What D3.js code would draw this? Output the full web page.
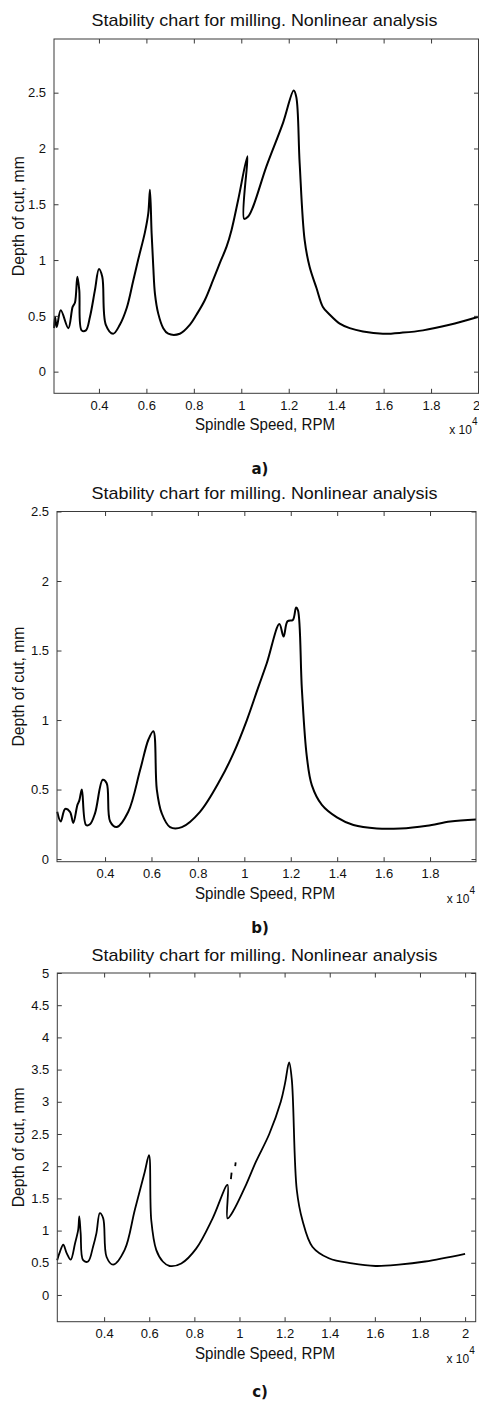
<!DOCTYPE html>
<html><head><meta charset="utf-8">
<script src="https://cdn.jsdelivr.net/npm/d3@7"></script>
<style>
body{margin:0;background:#fff}
svg text{font-family:"Liberation Sans",Arial,Helvetica,sans-serif;fill:#111}
</style>
</head><body>
<svg id="chart" width="479" height="1401"></svg>
<script>
// ---------- DATA ----------
const titleText = "Stability chart for milling. Nonlinear analysis";
const xLabelText = "Spindle Speed, RPM";
const yLabelText = "Depth of cut, mm";
const panelLetters = ["a)", "b)", "c)"];

// spindle speed (x 10^4 RPM) and depth of cut (mm)
const speedA = [0.211,0.215,0.222,0.239,0.271,0.289,0.299,0.309,0.317,0.327,0.345,0.362,0.383,0.400,0.414,0.429,0.460,0.488,0.517,0.544,0.565,0.594,0.608,0.615,0.622,0.629,0.636,0.650,0.671,0.692,0.741,0.783,0.811,0.846,0.881,0.909,0.938,0.959,0.987,1.026,1.012,1.029,1.050,1.106,1.176,1.221,1.232,1.246,1.267,1.288,1.317,1.344,1.373,1.415,1.457,1.513,1.597,1.681,1.766,1.878,1.997];
const depthA = [0.39,0.49,0.40,0.55,0.39,0.58,0.62,0.85,0.73,0.37,0.37,0.49,0.73,0.92,0.85,0.42,0.34,0.42,0.57,0.81,1.00,1.25,1.42,1.63,1.24,0.94,0.70,0.52,0.39,0.34,0.34,0.42,0.51,0.64,0.82,0.97,1.12,1.27,1.54,1.93,1.37,1.39,1.48,1.84,2.23,2.52,2.46,1.87,1.18,0.94,0.75,0.58,0.51,0.43,0.39,0.36,0.34,0.35,0.37,0.42,0.49];

const speedB = [0.194,0.209,0.228,0.249,0.263,0.281,0.289,0.300,0.318,0.335,0.357,0.390,0.407,0.422,0.450,0.500,0.551,0.587,0.608,0.623,0.644,0.680,0.731,0.809,0.896,0.953,1.011,1.061,1.097,1.151,1.169,1.186,1.209,1.223,1.231,1.248,1.269,1.291,1.334,1.399,1.470,1.571,1.672,1.787,1.887,1.998];
const depthB = [0.34,0.27,0.36,0.34,0.26,0.39,0.42,0.50,0.245,0.25,0.33,0.57,0.545,0.27,0.23,0.34,0.64,0.86,0.92,0.50,0.33,0.23,0.23,0.34,0.57,0.76,1.00,1.24,1.41,1.69,1.60,1.71,1.72,1.81,1.79,1.22,0.74,0.53,0.39,0.30,0.245,0.22,0.22,0.24,0.27,0.285];

const speedC = [0.192,0.204,0.219,0.234,0.252,0.271,0.285,0.290,0.296,0.307,0.329,0.351,0.366,0.381,0.396,0.411,0.440,0.491,0.536,0.580,0.599,0.609,0.631,0.660,0.690,0.742,0.808,0.881,0.947,0.947,0.970,1.029,1.073,1.132,1.183,1.202,1.220,1.232,1.254,1.279,1.323,1.396,1.499,1.603,1.706,1.823,2.000];
const depthC = [0.54,0.67,0.78,0.65,0.55,0.80,1.01,1.22,0.96,0.54,0.52,0.75,0.96,1.27,1.19,0.59,0.47,0.70,1.32,1.91,2.17,1.16,0.70,0.52,0.45,0.49,0.72,1.19,1.71,1.19,1.29,1.71,2.07,2.50,3.00,3.29,3.61,3.34,1.63,1.16,0.75,0.57,0.49,0.45,0.47,0.52,0.64];
// two small detached fragments in panel c
const fragSpeedC1 = [0.962,0.965], fragDepthC1 = [1.80,1.90];
const fragSpeedC2 = [0.981,0.983], fragDepthC2 = [2.00,2.06];

const xTicksA = [0.4,0.6,0.8,1,1.2,1.4,1.6,1.8,2];
const xTicksB = [0.4,0.6,0.8,1,1.2,1.4,1.6,1.8];
const xTicksC = [0.4,0.6,0.8,1,1.2,1.4,1.6,1.8,2];
const yTicksA = [0,0.5,1,1.5,2,2.5];
const yTicksB = [0,0.5,1,1.5,2,2.5];
const yTicksC = [0,0.5,1,1.5,2,2.5,3,3.5,4,4.5,5];
const xDomA = [0.2105,2.0], yDomA = [-0.194,2.981];
const xDomB = [0.193,1.998], yDomB = [-0.019,2.5];
const xDomC = [0.1925,2.047], yDomC = [-0.415,5.0];

// ---------- LAYOUT ----------
const panels = [
  {l:54, r:478.5, t:39, b:393.3, xd:xDomA, yd:yDomA, xt:xTicksA, yt:yTicksA,
   lines:[[speedA,depthA]], titleY:26, letterY:474, sw:2},
  {l:57, r:476, t:511.5, b:861.7, xd:xDomB, yd:yDomB, xt:xTicksB, yt:yTicksB,
   lines:[[speedB,depthB]], titleY:499, letterY:933, sw:2},
  {l:57.3, r:475.7, t:973, b:1321.7, xd:xDomC, yd:yDomC, xt:xTicksC, yt:yTicksC,
   lines:[[speedC,depthC],[fragSpeedC1,fragDepthC1],[fragSpeedC2,fragDepthC2]], titleY:961, letterY:1397, sw:1.8}
];

const svg = d3.select("#chart");
const fmt = v => String(v);
const tickLen = 4.5;
const axisColor = "#3a3a3a";

panels.forEach((p, i) => {
  const x = d3.scaleLinear().domain(p.xd).range([p.l, p.r]);
  const y = d3.scaleLinear().domain(p.yd).range([p.b, p.t]);
  const g = svg.append("g");

  // title
  g.append("text").attr("x", 264.5).attr("y", p.titleY)
    .attr("text-anchor", "middle").style("font-size", "17px")
    .attr("textLength", 346).attr("lengthAdjust", "spacingAndGlyphs")
    .text(titleText);

  // curve(s)
  const lineGen = d3.line().x(d => x(d[0])).y(d => y(d[1])).curve(d3.curveCatmullRom.alpha(0.5));
  p.lines.forEach(([xs, ys]) => {
    g.append("path").datum(xs.map((v, k) => [v, ys[k]]))
      .attr("d", lineGen).attr("fill", "none").attr("stroke", "#000")
      .attr("stroke-width", p.sw).attr("stroke-linejoin", "round");
  });

  // axes using d3 axis generators, ticks inward
  const axB = d3.axisBottom(x).tickValues(p.xt).tickFormat(fmt).tickSizeInner(-tickLen).tickSizeOuter(0).tickPadding(7);
  const axT = d3.axisTop(x).tickValues(p.xt).tickFormat("").tickSizeInner(-tickLen).tickSizeOuter(0);
  const axL = d3.axisLeft(y).tickValues(p.yt).tickFormat(fmt).tickSizeInner(-tickLen).tickSizeOuter(0).tickPadding(8);
  const axR = d3.axisRight(y).tickValues(p.yt).tickFormat("").tickSizeInner(-tickLen).tickSizeOuter(0);

  const style = sel => {
    sel.selectAll("path.domain").remove();
    sel.selectAll("line").attr("stroke", axisColor);
    sel.selectAll("text").style("font-size", "13px").attr("fill", "#222")
      .style("font-family", '"Liberation Sans",Arial,sans-serif');
  };
  const bottomAxis = g.append("g").attr("transform", `translate(0,${p.b})`).call(axB).call(style);
  // keep a label sitting on the right page edge inside the page
  bottomAxis.selectAll(".tick text").filter(d => x(d) > 477).attr("text-anchor", "end").attr("dx", "0.1em");
  g.append("g").attr("transform", `translate(0,${p.t})`).call(axT).call(style);
  g.append("g").attr("transform", `translate(${p.l},0)`).call(axL).call(style);
  g.append("g").attr("transform", `translate(${p.r},0)`).call(axR).call(style);

  // frame
  g.append("rect").attr("x", p.l).attr("y", p.t).attr("width", p.r - p.l).attr("height", p.b - p.t)
    .attr("fill", "none").attr("stroke", axisColor).attr("stroke-width", 1);

  // x label
  g.append("text").attr("x", 265).attr("y", p.b + 37)
    .attr("text-anchor", "middle").style("font-size", "16px")
    .attr("textLength", 140).attr("lengthAdjust", "spacingAndGlyphs").text(xLabelText);
  // y label
  g.append("text").attr("transform", `translate(24,${(p.t + p.b) / 2}) rotate(-90)`)
    .attr("text-anchor", "middle").style("font-size", "16px")
    .attr("textLength", 120).attr("lengthAdjust", "spacingAndGlyphs").text(yLabelText);
  // exponent
  const ex = g.append("text").attr("x", p.r - 1).attr("y", p.b + 41)
    .attr("text-anchor", "end").style("font-size", "12px");
  ex.append("tspan").text("x 10");
  ex.append("tspan").attr("dy", -9).style("font-size", "10px").text("4");
  // panel letter
  g.append("text").attr("x", 260).attr("y", p.letterY).attr("text-anchor", "middle")
    .style("font-size", "15px").style("font-weight", "bold")
    .style("font-family", '"DejaVu Sans",Verdana,sans-serif').text(panelLetters[i]);
});
</script>
</body></html>
